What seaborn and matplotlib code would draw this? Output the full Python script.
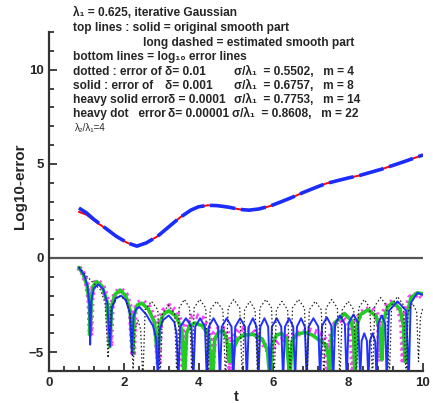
import numpy as np
import pandas as pd
import matplotlib
matplotlib.use("Agg")
import matplotlib.pyplot as plt
import seaborn as sns
from matplotlib.ticker import MultipleLocator

# smooth part (top lines)
t_top = [0.8, 1.0, 1.2, 1.5, 1.8, 2.1, 2.35, 2.6, 2.9, 3.2, 3.5, 3.8, 4.0, 4.25, 4.5,
         4.8, 5.1, 5.35, 5.6, 5.9, 6.2, 6.5, 6.8, 7.1, 7.4, 7.7, 8.0, 8.3, 8.6, 8.9,
         9.2, 9.5, 9.8, 10.0]
y_orig = [2.65, 2.4, 2.05, 1.6, 1.15, 0.8, 0.63, 0.8, 1.15, 1.65, 2.15, 2.55, 2.72,
          2.8, 2.78, 2.7, 2.58, 2.54, 2.6, 2.75, 2.98, 3.22, 3.48, 3.72, 3.95, 4.1,
          4.25, 4.38, 4.55, 4.72, 4.92, 5.12, 5.33, 5.47]
y_est = [2.45, 2.3, 2.0, 1.58, 1.14, 0.8, 0.63, 0.8, 1.15, 1.65, 2.15, 2.55, 2.72,
         2.8, 2.78, 2.7, 2.58, 2.54, 2.6, 2.75, 2.98, 3.22, 3.48, 3.72, 3.95, 4.1,
         4.25, 4.38, 4.55, 4.72, 4.92, 5.12, 5.33, 5.47]

# dotted : delta = 0.01, m = 4
t_dot = [0.8, 1.0, 1.2, 1.38, 1.5, 1.58, 1.66, 1.85, 2.05, 2.18, 2.25, 2.3, 2.38, 2.45, 2.51,
         2.57, 2.74, 2.91, 2.97, 3.03, 3.2, 3.36, 3.42, 3.48, 3.62, 3.76, 3.82, 3.88, 4.03,
         4.19, 4.25, 4.31, 4.48, 4.65, 4.72, 4.79, 4.94, 5.1, 5.17, 5.23, 5.37, 5.51, 5.58,
         5.64, 5.8, 5.95, 6.02, 6.08, 6.23, 6.38, 6.45, 6.51, 6.67, 6.83, 6.9, 6.96, 7.12,
         7.28, 7.35, 7.41, 7.56, 7.71, 7.78, 7.84, 8.0, 8.15, 8.22, 8.28, 8.43, 8.58, 8.65,
         8.71, 8.87, 9.03, 9.1, 9.16, 9.32, 9.48, 9.55, 9.6, 9.72, 9.83, 9.88, 9.93, 10.0]
y_dot = [-0.5, -0.95, -1.35, -1.7, -2.4, -5.3, -2.6, -2.0, -2.2, -3.0, -5.9, -3.8, -3.3, -3.8, -6.5,
         -2.75, -2.3, -2.75, -6.5, -2.95, -2.5, -2.95, -6.5, -2.65, -2.2, -2.65, -6.5, -2.65, -2.2,
         -2.65, -6.5, -2.75, -2.3, -2.75, -6.5, -2.65, -2.2, -2.65, -6.5, -2.75, -2.3, -2.75, -6.5,
         -2.65, -2.2, -2.65, -6.5, -2.75, -2.3, -2.75, -6.5, -2.65, -2.2, -2.65, -6.5, -2.75, -2.3,
         -2.75, -6.5, -2.65, -2.2, -2.65, -6.5, -2.75, -2.3, -2.75, -6.5, -2.65, -2.2, -2.65, -6.5,
         -2.55, -2.1, -2.55, -6.5, -2.5, -2.05, -2.5, -6.5, -2.85, -2.4, -2.85, -5.5, -3.2, -2.6]

# solid : delta = 0.001, m = 8
t_sol = [0.8, 0.95, 1.03, 1.08, 1.1, 1.13, 1.2, 1.32, 1.45, 1.56, 1.63, 1.68, 1.78, 1.93, 2.06,
         2.16, 2.22, 2.26, 2.33, 2.42, 2.6, 2.78, 2.87, 2.91, 2.96, 3.05, 3.2, 3.35, 3.41, 3.46,
         3.51, 3.66, 3.81, 3.86, 3.91, 4.04, 4.17, 4.22, 4.27, 4.4, 4.52, 4.57, 4.62, 4.75,
         4.88, 4.93, 4.98, 5.11, 5.24, 5.29, 5.34, 5.45, 5.55, 5.6, 5.65, 5.76, 5.86, 5.91,
         5.96, 6.09, 6.21, 6.26, 6.31, 6.42, 6.53, 6.58, 6.63, 6.74, 6.84, 6.89, 6.94, 7.07,
         7.2, 7.25, 7.3, 7.43, 7.55, 7.6, 7.65, 7.78, 7.91, 7.96, 8.01, 8.14, 8.27, 8.32,
         8.36, 8.43, 8.5, 8.54, 8.58, 8.65, 8.72, 8.76, 8.8, 8.9, 8.99, 9.03, 9.09, 9.32,
         9.55, 9.62, 9.67, 9.85, 10.0]
y_sol = [-0.5, -0.95, -1.5, -2.5, -4.6, -2.3, -1.6, -1.4, -1.65, -2.4, -4.7, -2.7, -2.15, -2.0, -2.25,
         -2.9, -5.1, -3.1, -2.7, -2.6, -3.0, -3.6, -4.3, -6.5, -3.8, -3.3, -3.05, -3.4, -4.0, -6.5,
         -3.65, -3.2, -3.65, -6.5, -3.65, -3.2, -3.65, -6.5, -3.65, -3.2, -3.65, -6.5, -3.65, -3.2,
         -3.65, -6.5, -3.65, -3.2, -3.65, -6.5, -3.65, -3.2, -3.65, -6.5, -3.65, -3.2, -3.65, -6.5,
         -3.65, -3.2, -3.65, -6.5, -3.65, -3.2, -3.65, -6.5, -3.65, -3.2, -3.65, -6.5, -3.65, -3.2,
         -3.65, -6.5, -3.6, -3.15, -3.6, -6.5, -3.5, -3.05, -3.5, -6.5, -3.45, -3.0, -3.45, -6.5,
         -4.4, -4.0, -4.4, -6.5, -4.4, -4.0, -4.4, -6.5, -3.5, -3.05, -3.5, -6.5, -2.8, -2.3,
         -2.8, -6.5, -2.4, -1.85, -1.95]

# heavy solid : delta = 0.0001, m = 14
t_hs = [0.8, 0.92, 1.02, 1.08, 1.1, 1.13, 1.18, 1.27, 1.42, 1.55, 1.63, 1.67, 1.76, 1.9, 2.05,
        2.17, 2.24, 2.28, 2.36, 2.48, 2.65, 2.82, 2.91, 2.96, 3.05, 3.2, 3.4, 3.55, 3.62, 3.68,
        3.76, 3.9, 4.1, 4.27, 4.37, 4.43, 4.53, 4.65, 4.75, 4.82, 4.86, 4.91, 4.96, 5.05, 5.2,
        5.45, 5.7, 5.84, 5.91, 5.97, 6.08, 6.22, 6.35, 6.44, 6.5, 6.62, 6.85, 7.05, 7.25, 7.4,
        7.47, 7.5, 7.55, 7.66, 7.9, 8.08, 8.15, 8.18, 8.23, 8.33, 8.53, 8.75, 8.85, 8.9, 8.95,
        9.05, 9.2, 9.38, 9.48, 9.52, 9.57, 9.68, 9.85, 10.0]
y_hs = [-0.5, -0.9, -1.5, -2.4, -4.1, -2.2, -1.5, -1.25, -1.5, -2.3, -4.7, -2.6, -1.95, -1.7, -2.0,
        -2.8, -5.1, -3.0, -2.5, -2.4, -2.7, -3.4, -5.55, -3.5, -3.0, -2.8, -3.1, -3.8, -6.5, -4.0,
        -3.6, -3.45, -3.6, -4.1, -6.5, -4.3, -3.95, -3.85, -4.3, -5.5, -4.6, -5.6, -4.7, -4.3, -4.1,
        -4.05, -4.3, -4.9, -6.5, -4.6, -4.1, -4.0, -4.3, -6.5, -4.4, -4.05, -3.95, -4.1, -4.4, -4.6,
        -5.2, -6.5, -4.2, -3.4, -2.95, -3.3, -4.2, -6.5, -3.6, -3.0, -2.75, -3.1, -3.9, -5.4, -3.3,
        -2.6, -2.35, -2.7, -3.6, -5.5, -3.0, -2.1, -1.85, -1.9]

# heavy dot : delta = 0.00001, m = 22
t_hd = [0.8, 0.92, 1.02, 1.08, 1.11, 1.14, 1.19, 1.28, 1.43, 1.56, 1.64, 1.68, 1.77, 1.91, 2.06,
        2.18, 2.25, 2.29, 2.37, 2.5, 2.67, 2.84, 2.93, 2.98, 3.06, 3.22, 3.4, 3.54, 3.6, 3.66,
        3.75, 3.9, 4.1, 4.28, 4.35, 4.42, 4.55, 4.75, 4.8, 4.85, 4.9, 5.1, 5.4, 5.65, 5.85, 5.93,
        5.98, 6.1, 6.35, 6.7, 7.0, 7.25, 7.4, 7.47, 7.55, 7.65, 7.85, 8.02, 8.1, 8.14, 8.2,
        8.35, 8.6, 8.75, 8.82, 8.86, 8.92, 9.05, 9.2, 9.35, 9.44, 9.48, 9.53, 9.65, 9.88, 10.0]
y_hd = [-0.5, -0.85, -1.45, -2.3, -4.1, -2.1, -1.45, -1.2, -1.45, -2.25, -4.7, -2.5, -1.9, -1.65, -1.95,
        -2.7, -5.2, -2.9, -2.4, -2.3, -2.6, -3.3, -5.7, -3.2, -2.8, -2.55, -2.85, -3.5, -6.5, -3.5,
        -3.15, -3.05, -3.2, -3.8, -6.5, -4.0, -3.75, -3.8, -4.4, -6.5, -4.3, -3.75, -3.8, -4.3, -4.9, -5.4,
        -4.8, -4.5, -4.2, -4.0, -3.85, -4.0, -4.4, -6.5, -4.0, -3.5, -3.2, -3.5, -4.3, -6.5, -3.4,
        -2.9, -2.65, -2.9, -3.6, -5.5, -3.0, -2.5, -2.3, -2.6, -3.5, -5.6, -2.9, -2.1, -1.9, -2.1]

legend_lines = [
    ("λ₁ = 0.625, iterative Gaussian", 73, 13),
    ("top lines : solid = original smooth part", 73, 28),
    ("long dashed = estimated smooth part", 143, 43),
    ("bottom lines = log₁₀ error lines", 73, 57),
    ("dotted : error of", 73, 72), ("δ= 0.01", 165, 72), ("σ/λ₁  = 0.5502,   m = 4", 234, 72),
    ("solid : error of", 73, 86), ("δ= 0.001", 165, 86), ("σ/λ₁  = 0.6757,   m = 8", 234, 86),
    ("heavy solid error", 73, 100), ("δ = 0.0001", 168, 100), ("σ/λ₁  = 0.7753,   m = 14", 234, 100),
    ("heavy dot   error", 73, 114), ("δ= 0.00001", 168, 114), ("σ/λ₁  = 0.8608,   m = 22", 232, 114),
]

sns.set_style("ticks")
fams = ["Liberation Sans", "DejaVu Sans"]
plt.rcParams["font.family"] = fams

W, H = 433, 403
fig = plt.figure(figsize=(W / 100, H / 100), dpi=100)
ax = fig.add_axes([49 / W, 1 - 371 / H, (423 - 49) / W, (371 - 32) / H])

ax.axhline(0, color="#555555", lw=1.6, zorder=1)

def draw(t, y, **kw):
    df = pd.DataFrame({"t": t, "y": y})
    sns.lineplot(data=df, x="t", y="y", sort=False, estimator=None, ax=ax, **kw)

draw(t_top, y_est, color="red", lw=1.4)
draw(t_top, y_orig, color="#1a2cff", lw=2.6, linestyle=(0, (7, 1.6)))

draw(t_hd, y_hd, color="#ff40ff", lw=4.2, linestyle=(0, (0.4, 0.6)))
draw(t_hs, y_hs, color="#22cc22", lw=2.6)
draw(t_sol, y_sol, color="#2030ff", lw=1.4)
draw(t_dot, y_dot, color="#222222", lw=0.9, linestyle=(0, (1.2, 1.8)))

ax.set_xlim(0, 10)
ax.set_ylim(-6, 12)
ax.xaxis.set_major_locator(MultipleLocator(2))
ax.xaxis.set_minor_locator(MultipleLocator(0.4))
ax.yaxis.set_major_locator(MultipleLocator(5))
ax.yaxis.set_minor_locator(MultipleLocator(1))
ax.tick_params(which="both", direction="in", width=1.3, color="#333333")
ax.tick_params(which="major", length=6, labelsize=9.5, pad=4)
ax.tick_params(which="minor", length=3.5)
for lab in ax.get_xticklabels() + ax.get_yticklabels():
    lab.set_fontweight("bold")
sns.despine(ax=ax)
for s in ("left", "bottom"):
    ax.spines[s].set_linewidth(1.6)
    ax.spines[s].set_color("#333333")

ax.set_xlabel("t", fontsize=10.5, fontweight="bold", labelpad=1)
ax.set_ylabel("Log10-error", fontsize=11, fontweight="bold")
ax.yaxis.set_label_coords(-0.06, 0.545)

for txt, px, py in legend_lines:
    fig.text(px / W, 1 - py / H, txt, fontsize=8.6, fontweight="bold", va="center", ha="left")
fig.text(75 / W, 1 - 128 / H, "λ₂/λ₁=4", fontsize=7, va="center", ha="left")

fig.savefig("out.png", dpi=100)
